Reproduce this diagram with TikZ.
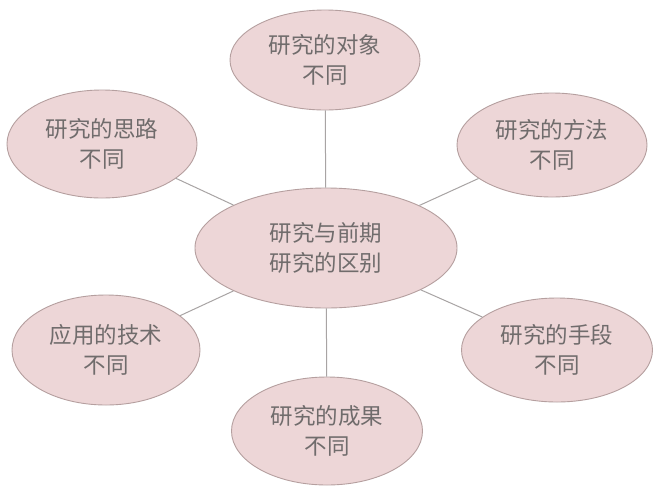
\documentclass[tikz,border=0pt]{standalone}
\usepackage{fontspec}
\newfontfamily\cjk{Noto Sans CJK SC}
\usetikzlibrary{shapes.geometric}
\definecolor{bubblefill}{HTML}{EDD6D7}
\definecolor{bubbleline}{HTML}{B59F9F}
\definecolor{linkline}{HTML}{A8A4A4}
\definecolor{txtgray}{HTML}{706C6C}
\begin{document}
\begin{tikzpicture}[x=1pt,y=-1pt,
  bubble/.style={ellipse,draw=bubbleline,fill=bubblefill,line width=0.9pt,inner sep=0pt,
    align=center,text=txtgray,font=\cjk\fontsize{22.5}{30}\selectfont},
  link/.style={draw=linkline,line width=1pt}]
\useasboundingbox[fill=white] (0,0) rectangle (653,485);
\node[bubble,minimum width=262pt,minimum height=120pt] (c) at (326,248) {研究与前期\\研究的区别};
\node[bubble,minimum width=190pt,minimum height=100pt] (t) at (325,60) {研究的对象\\不同};
\node[bubble,minimum width=190pt,minimum height=108pt] (tl) at (102,144) {研究的思路\\不同};
\node[bubble,minimum width=190pt,minimum height=104pt] (tr) at (552,145) {研究的方法\\不同};
\node[bubble,minimum width=188pt,minimum height=110pt] (bl) at (106,350) {应用的技术\\不同};
\node[bubble,minimum width=191pt,minimum height=104pt] (br) at (557,350) {研究的手段\\不同};
\node[bubble,minimum width=191pt,minimum height=108pt] (b) at (327,431) {研究的成果\\不同};
\foreach \n in {t,tl,tr,bl,br,b}{\draw[link] (c) -- (\n);}
\end{tikzpicture}
\end{document}
